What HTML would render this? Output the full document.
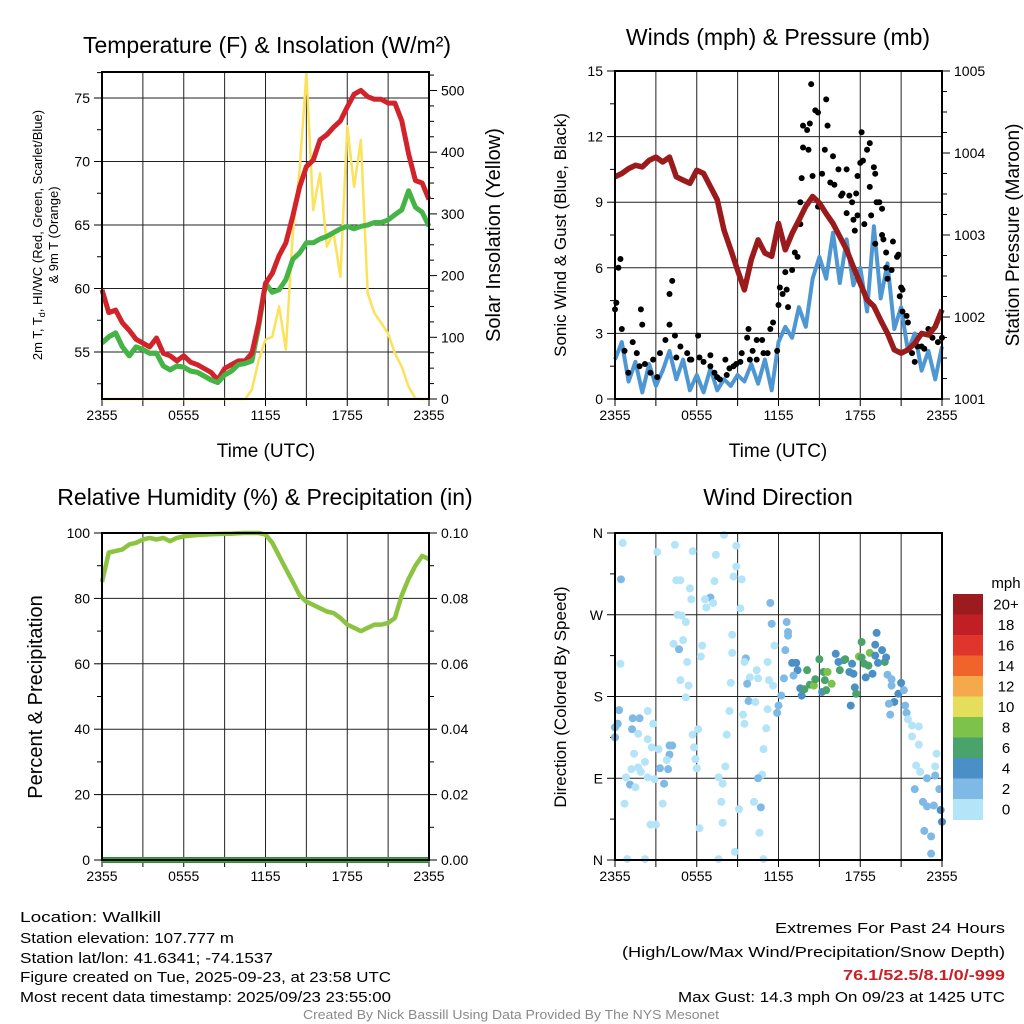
<!DOCTYPE html>
<html><head><meta charset="utf-8"><style>
html,body{margin:0;padding:0;background:#fff;}
svg{display:block;font-family:"Liberation Sans",sans-serif;}
</style></head><body>
<svg id="c" width="1024" height="1024" viewBox="0 0 1024 1024"></svg>
<script>
// ---------- data ----------
const timeTicks = ["2355","0555","1155","1755","2355"];
const tickHours = [0,6,12,18,24];
const halfHours = [0,0.5,1,1.5,2,2.5,3,3.5,4,4.5,5,5.5,6,6.5,7,7.5,8,8.5,9,9.5,10,10.5,11,11.5,12,12.5,13,13.5,14,14.5,15,15.5,16,16.5,17,17.5,18,18.5,19,19.5,20,20.5,21,21.5,22,22.5,23,23.5,24];
const tempF = [59.9,58.1,58.3,57.3,56.7,56.0,55.7,55.4,56.1,54.9,54.7,54.3,54.7,54.2,54.0,53.7,53.4,52.8,53.7,54.0,54.3,54.3,54.9,57.3,60.4,61.2,62.6,63.6,65.7,68.0,69.6,70.1,71.7,72.1,72.7,73.2,74.3,75.3,75.6,75.1,74.9,74.9,74.6,74.6,73.2,70.6,68.5,68.3,67.0];
const dewF = [55.7,56.2,56.5,55.4,54.7,55.4,55.2,54.9,54.9,53.9,53.6,53.9,53.8,53.5,53.4,53.1,52.8,52.6,53.2,53.5,54.0,54.1,54.3,57.0,60.4,59.7,59.9,60.7,62.3,62.8,63.6,63.6,63.9,64.1,64.4,64.7,64.9,64.7,64.9,65.0,65.2,65.2,65.4,65.8,66.2,67.7,66.4,66.0,64.9];
const solarW = [0,0,0,0,0,0,0,0,0,0,0,0,0,0,0,0,0,0,0,0,0,0,15,63,96,101,150,80,269,371,528,306,366,247,269,198,442,344,420,171,139,123,106,74,52,20,1,0,0];
const windMph = [1.8,2.6,0.8,1.7,0.3,1.6,0.6,1.3,2.2,0.9,1.8,0.4,1.1,0.3,1.4,0.4,0.9,0.6,1.1,0.8,1.6,0.7,1.8,0.4,2.6,3.3,2.8,4.2,3.3,5.5,6.5,5.5,7.6,5.3,7.3,5.2,6.0,4.0,7.9,4.6,6.2,3.2,4.2,2.2,3.0,1.3,2.2,0.9,2.4];
const pressureMb = [1003.71,1003.75,1003.81,1003.85,1003.83,1003.91,1003.95,1003.89,1003.95,1003.71,1003.67,1003.63,1003.79,1003.75,1003.59,1003.43,1003.06,1002.82,1002.57,1002.33,1002.70,1002.94,1002.78,1002.74,1003.14,1002.82,1003.02,1003.18,1003.35,1003.47,1003.39,1003.26,1003.14,1002.98,1002.82,1002.61,1002.41,1002.21,1002.13,1001.96,1001.80,1001.60,1001.56,1001.60,1001.68,1001.80,1001.78,1001.88,1002.09];
const gustHours = [0,0.1,0.25,0.4,0.5,0.7,1.3,1.6,1.9,2.0,2.2,2.6,3.3,3.7,4.0,4.2,4.0,4.4,4.8,5.3,5.6,6.1,6.5,7.0,7.3,7.7,8.1,8.4,8.9,9.3,9.7,9.8,10.1,10.4,10.8,11.4,11.6,12.0,12.1,12.3,12.6,12.7,12.5,13.0,13.2,13.4,13.6,13.6,13.7,13.8,13.8,14.1,14.2,14.3,14.4,14.5,14.7,14.9,14.9,15.2,15.4,15.5,15.6,15.8,16.0,16.1,16.4,16.6,16.7,17.0,17.0,17.2,17.4,17.5,17.6,17.7,17.8,17.8,18.0,18.1,18.2,18.3,18.5,18.7,18.7,18.8,19.0,19.1,19.1,19.2,19.4,19.6,19.6,19.7,19.9,19.9,20.0,20.3,20.4,20.7,20.8,20.9,21.0,21.1,21.1,21.4,21.5,21.8,22.0,22.2,22.5,22.7,23.0,23.3,23.7,24.0,0.98,1.8,2.8,3.1,4.5,5.5,6.2,7.0,7.5,8.2,8.7,9.2,9.9,10.4,10.9,11.2,11.9];
const gustMph = [4.1,4.4,6.0,6.4,3.2,2.2,2.6,2.1,4.1,3.4,1.6,1.2,2.1,2.7,4.8,5.4,3.4,2.9,2.4,2.1,1.8,2.9,1.7,2.0,1.2,0.9,1.8,1.4,1.6,2.1,2.8,3.2,2.2,2.7,2.7,3.2,3.5,4.3,5.1,4.8,5.0,4.2,5.8,5.9,6.7,6.5,8.0,9.0,10.1,11.5,12.5,12.3,11.4,12.6,14.4,10.2,13.2,13.1,8.8,10.3,11.4,13.7,12.5,9.9,11.1,9.8,10.5,9.3,9.4,10.5,8.5,9.3,9.0,8.2,7.7,9.4,10.2,8.4,10.8,12.2,10.9,8.0,11.4,11.7,9.7,8.4,10.6,10.3,7.1,9.0,9.0,8.7,7.5,7.3,6.7,6.0,5.5,5.9,7.2,6.5,6.6,4.7,5.1,5.0,4.0,3.8,3.5,2.1,1.7,2.4,2.4,2.3,3.2,2.8,2.6,2.8,1.2,1.5,1.8,1.0,1.9,1.8,1.9,1.5,1.0,1.1,1.5,1.7,1.8,1.8,2.1,2.1,2.2];
const rhPct = [85,94,94.5,95,96.5,97,98,98.5,98,98.5,97.5,98.5,99,99.2,99.4,99.5,99.6,99.7,99.8,99.8,99.9,100,100,100,99.5,97,93,89,85,81,79,78,77,76,75.5,74,72,71,70,71,72,72,72.5,74,81,86,90,93,92];
const precipIn = [0,0,0,0,0,0,0,0,0,0,0,0,0,0,0,0,0,0,0,0,0,0,0,0,0,0,0,0,0,0,0,0,0,0,0,0,0,0,0,0,0,0,0,0,0,0,0,0,0];
const dirHours = [0.57,0.44,0.4,0.3,0.2,0,0,1.3,1.8,1.25,1.7,2.4,2.8,2.4,2.7,1.4,2.2,1.2,1.7,1.9,0.8,1.1,1.5,2.4,2.9,0.7,2.6,3.0,0.9,2.2,3.1,4.4,5.7,4.5,4.8,5.5,5.6,7.0,6.6,7.2,6.7,4.6,4.9,5.2,4.3,5.0,4.7,5.3,6.4,6.3,4.8,5.4,5.2,4.0,4.2,3.2,4.0,3.8,3.3,3.9,3.6,3.5,6.1,5.7,5.8,5.9,6.0,7.6,7.9,7.8,7.9,6.2,7.6,8.0,7.4,8.9,8.9,8.7,9.3,7.3,9.2,8.6,8.6,8.5,8.4,8.2,9.5,9.4,9.1,8.8,8.1,9.6,9.5,10.4,9.9,10.5,9.7,9.8,10.3,11.2,11.1,10.9,10.8,10.5,10.2,10.7,10.6,10.9,11.4,11.5,11.2,11.3,11.7,11.6,12.0,11.9,12.2,12.4,12.6,12.7,12.7,12.5,13.0,13.3,13.4,13.1,13.6,13.7,13.9,14.1,14.3,14.6,14.7,15.0,15.3,15.4,15.6,15.9,15.2,15.5,16.2,16.4,16.5,16.8,16.9,17.2,17.4,17.5,17.3,17.6,17.7,17.9,18.1,18.1,18.3,18.4,18.6,18.7,18.9,19.1,19.1,19.2,19.6,19.8,19.9,19.3,20.0,20.3,20.3,20.5,20.8,21.0,21.2,20.1,20.2,21.3,21.4,21.5,21.8,22.3,21.8,22.3,22.1,22.4,23.6,23.5,22.9,23.5,23.8,22.0,22.6,22.9,23.4,23.9,24.0,22.7,23.2,23.2];
const dirDeg = [349,309,216,165,150,146,135,156,156,144,139,164,150,133,124,117,108,100,102,97,91,83,80,91,89,62,39,39,1,1,339,347,340,308,308,299,287,289,287,283,278,270,269,262,238,242,232,218,236,224,198,192,179,126,126,122,116,110,101,100,84,62,144,138,124,111,101,91,84,64,41,35,1,358,336,346,323,312,309,307,277,248,228,195,164,138,150,160,56,9,103,222,218,209,201,200,194,175,174,166,145,122,94,90,64,58,30,1,283,260,218,198,236,192,170,162,181,200,262,251,247,231,217,217,209,203,189,181,188,209,193,192,199,221,207,198,207,194,185,187,227,218,209,220,221,207,216,205,170,190,183,224,240,223,216,201,214,228,205,225,237,250,231,218,223,217,204,199,192,174,183,195,187,172,160,170,162,155,148,147,136,127,104,97,117,103,90,93,78,78,64,59,60,55,42,32,26,7];
const dirSpeed = [1,3,1,3,3,3,3,3,3,3,1,1,1,1,1,1,1,1,1,1,1,3,1,1,1,1,1,1,1,1,1,1,1,1,1,1,1,3,1,1,1,1,1,1,1,1,3,1,1,1,1,1,1,3,3,1,3,1,3,3,3,1,1,1,1,1,1,1,1,1,1,1,1,1,1,1,1,1,1,1,1,1,1,1,1,1,1,1,1,1,1,3,1,1,1,1,3,3,1,1,1,1,1,3,1,3,1,1,3,3,1,1,1,1,3,3,3,3,3,3,3,3,4,4,4,3,4,4,6,6,6,8,6,6,6,6,8,8,4,6,4,4,6,4,6,4,4,4,4,4,6,8,6,6,6,4,6,8,4,4,4,4,4,6,4,4,3,3,3,4,4,4,3,3,3,3,3,1,1,1,1,1,1,1,1,1,3,3,3,3,3,3,3,4,4,3,3,3];
const speedLabels = ["0","2","4","6","8","10","12","14","16","18","20+"];
const speedColors = ["#b3e4f8","#7fb9e5","#4b8fc7","#4aa36b","#7cc24b","#e5de5a","#f6a94a","#f0632b","#e0352c","#c01f26","#9c1b1f"];

// ---------- helpers ----------
const svg = document.getElementById('c');
const NS = 'http://www.w3.org/2000/svg';
function mk(tag, attrs, parent){
  const e = document.createElementNS(NS, tag);
  for (const k in attrs) e.setAttribute(k, attrs[k]);
  (parent||svg).appendChild(e);
  return e;
}
function txt(s, x, y, size, anchor, extra, parent){
  const t = mk('text', Object.assign({x:x, y:y, 'font-size':size, 'text-anchor':anchor||'middle', fill:'#000'}, extra||{}), parent);
  t.textContent = s;
  return t;
}
function lin(a0,a1,p0,p1){ return v => p0 + (v-a0)/(a1-a0)*(p1-p0); }

const P1 = {x0:102,x1:429,y0:72,y1:399};
const P2 = {x0:615,x1:942,y0:71,y1:399};
const P3 = {x0:102,x1:429,y0:533,y1:860};
const P4 = {x0:615,x1:942,y0:533,y1:860};

function frame(P, name){
  const g = mk('g', {});
  
  
  const xs = lin(0,24,P.x0,P.x1);
  for (let h=3; h<24; h+=3){
    const l = mk('line', {x1:xs(h), x2:xs(h), y1:P.y0, y2:P.y1, stroke:'#222', 'stroke-width':1}, g);
    
    
  }
  for (let h=0; h<=24; h+=3){
    mk('line', {x1:xs(h), x2:xs(h), y1:P.y1, y2:P.y1+7, stroke:'#000', 'stroke-width':1}, g);
  }
  tickHours.forEach((h,i)=>{
    const t = txt(timeTicks[i], xs(h), P.y1+21, 14, 'middle', {}, g);
    
    
  });
  return {g, xs};
}
function border(P){
  const r = mk('rect', {x:P.x0, y:P.y0, width:P.x1-P.x0, height:P.y1-P.y0, fill:'none', stroke:'#000', 'stroke-width':2});
  
  
}
function hgrid(P, ys, vals, g){
  vals.forEach(v=>{
    const l = mk('line', {x1:P.x0, x2:P.x1, y1:ys(v), y2:ys(v), stroke:'#222', 'stroke-width':1}, g);
    
    
  });
}
function leftAxis(P, ys, vals, labels, minor, g){
  vals.forEach((v,i)=>{
    mk('line', {x1:P.x0-8, x2:P.x0, y1:ys(v), y2:ys(v), stroke:'#000'}, g);
    const t = txt(labels[i], P.x0-12, ys(v)+5, 14, 'end', {}, g);
    
    
  });
  minor.forEach(v=> mk('line', {x1:P.x0-5, x2:P.x0, y1:ys(v), y2:ys(v), stroke:'#000'}, g));
}
function rightAxis(P, ys, vals, labels, minor, g){
  vals.forEach((v,i)=>{
    mk('line', {x1:P.x1, x2:P.x1+8, y1:ys(v), y2:ys(v), stroke:'#000'}, g);
    const t = txt(labels[i], P.x1+12, ys(v)+5, 14, 'start', {}, g);
    
    
  });
  minor.forEach(v=> mk('line', {x1:P.x1, x2:P.x1+5, y1:ys(v), y2:ys(v), stroke:'#000'}, g));
}
function pathOf(xsArr, ysArr, xs, ys){
  return xsArr.map((h,i)=> (i?'L':'M') + xs(h).toFixed(1) + ',' + ys(ysArr[i]).toFixed(1)).join(' ');
}
function rotLabel(s, x, y, size, name){
  const t = txt(s, x, y, size, 'middle', {transform:'rotate(-90 '+x+' '+y+')'});
  
  
  return t;
}
function title(s, x, y, name){
  const t = txt(s, x, y, 23, 'middle');
  
  
  return t;
}

// ---------- Panel 1: temperature & insolation ----------
{
  const {g, xs} = frame(P1, 'temperature-panel');
  const ys = lin(55,75,352,98);
  const ysR = lin(0,500,399,90.5);
  hgrid(P1, ys, [55,60,65,70,75], g);
  leftAxis(P1, ys, [55,60,65,70,75], ['55','60','65','70','75'], [52.5,57.5,62.5,67.5,72.5,77], g);
  const rm = []; for (let v=50; v<=525; v+=50) if (v%100) rm.push(v); for (let v=25; v<=525; v+=50) rm.push(v);
  rightAxis(P1, ysR, [0,100,200,300,400,500], ['0','100','200','300','400','500'], rm, g);
  const s = mk('path', {d:pathOf(halfHours, solarW, xs, ysR), fill:'none', stroke:'#fbe25a', 'stroke-width':2.5, 'stroke-linejoin':'round'});
  
  
  const d = mk('path', {d:pathOf(halfHours, dewF, xs, ys), fill:'none', stroke:'#43b445', 'stroke-width':5, 'stroke-linejoin':'round'});
  
  
  const t = mk('path', {d:pathOf(halfHours, tempF, xs, ys), fill:'none', stroke:'#d2222a', 'stroke-width':5, 'stroke-linejoin':'round'});
  
  
  const d2 = mk('path', {d:pathOf(halfHours.slice(0,23), dewF.slice(0,23), xs, ys), fill:'none', stroke:'#43b445', 'stroke-width':5, 'stroke-linejoin':'round'});
  
  
  border(P1);
  title('Temperature (F) & Insolation (W/m\u00B2)', 267, 53, 'temperature-title');
  const yl = txt('', 42, 235, 13, 'middle', {transform:'rotate(-90 42 235)'});
  
  
  const a = mk('tspan', {}, yl); a.textContent = '2m T, T';
  const b = mk('tspan', {'font-size':9, dy:3}, yl); b.textContent = 'd';
  const c = mk('tspan', {dy:-3}, yl); c.textContent = ', HI/WC (Red, Green, Scarlet/Blue)';
  rotLabel('& 9m T (Orange)', 58, 235, 13, 'temperature-y-axis-subtitle');
  rotLabel('Solar Insolation (Yellow)', 500, 235, 20, 'insolation-y-axis-title');
  const xl = txt('Time (UTC)', 266, 457, 19);  
}

// ---------- Panel 2: winds & pressure ----------
{
  const {g, xs} = frame(P2, 'wind-pressure-panel');
  const ys = lin(0,15,399,71);
  const ysR = lin(1001,1005,399,71);
  hgrid(P2, ys, [3,6,9,12], g);
  leftAxis(P2, ys, [0,3,6,9,12,15], ['0','3','6','9','12','15'], [1.5,4.5,7.5,10.5,13.5], g);
  rightAxis(P2, ysR, [1001,1002,1003,1004,1005], ['1001','1002','1003','1004','1005'], [1001.25,1001.5,1001.75,1002.25,1002.5,1002.75,1003.25,1003.5,1003.75,1004.25,1004.5,1004.75], g);
  const w = mk('path', {d:pathOf(halfHours, windMph, xs, ys), fill:'none', stroke:'#4f97d3', 'stroke-width':4, 'stroke-linejoin':'round'});
  
  
  gustHours.forEach((h,i)=>{
    const c = mk('circle', {cx:xs(h), cy:ys(gustMph[i]), r:3, fill:'#000'});
    
    
  });
  const p = mk('path', {d:pathOf(halfHours, pressureMb, xs, ysR), fill:'none', stroke:'#9b1a1c', 'stroke-width':5.5, 'stroke-linejoin':'round'});
  
  
  border(P2);
  title('Winds (mph) & Pressure (mb)', 778, 45, 'wind-pressure-title');
  rotLabel('Sonic Wind & Gust (Blue, Black)', 566, 235, 17, 'wind-y-axis-title');
  rotLabel('Station Pressure (Maroon)', 1019, 235, 19, 'pressure-y-axis-title');
  const xl = txt('Time (UTC)', 778, 457, 19);  
}

// ---------- Panel 3: RH & precip ----------
{
  const {g, xs} = frame(P3, 'humidity-panel');
  const ys = lin(0,100,860,533);
  const ysR = lin(0,0.1,860,533);
  hgrid(P3, ys, [20,40,60,80], g);
  leftAxis(P3, ys, [0,20,40,60,80,100], ['0','20','40','60','80','100'], [10,30,50,70,90], g);
  rightAxis(P3, ysR, [0,0.02,0.04,0.06,0.08,0.1], ['0.00','0.02','0.04','0.06','0.08','0.10'], [0.01,0.03,0.05,0.07,0.09], g);
  const r = mk('path', {d:pathOf(halfHours, rhPct, xs, ys), fill:'none', stroke:'#8cc442', 'stroke-width':4.5, 'stroke-linejoin':'round'});
  
  
  const pr = mk('path', {d:pathOf(halfHours, precipIn, xs, ysR), fill:'none', stroke:'#2f8a3a', 'stroke-width':6});
  
  
  const pr2 = mk('path', {d:pathOf(halfHours, precipIn, xs, ysR), fill:'none', stroke:'#4db848', 'stroke-width':3});
  
  
  border(P3);
  title('Relative Humidity (%) & Precipitation (in)', 265, 505, 'humidity-title');
  rotLabel('Percent & Precipitation', 42, 697, 20, 'humidity-y-axis-title');
}

// ---------- Panel 4: wind direction ----------
{
  const {g, xs} = frame(P4, 'wind-direction-panel');
  const ys = lin(0,360,860,533);
  hgrid(P4, ys, [90,180,270], g);
  leftAxis(P4, ys, [0,90,180,270,360], ['N','E','S','W','N'], [45,135,225,315], g);
  function colorFor(s){ let i = Math.min(10, Math.floor(s/2)); return speedColors[i]; }
  dirHours.forEach((h,i)=>{
    const c = mk('circle', {cx:xs(h), cy:ys(dirDeg[i]), r:4, fill:colorFor(dirSpeed[i])});
    
    
  });
  border(P4);
  title('Wind Direction', 778, 505, 'wind-direction-title');
  rotLabel('Direction (Colored By Speed)', 566, 697, 17, 'direction-y-axis-title');
  const cb = mk('g', {});
  
  
  const bh = 20.5, top = 594;
  speedLabels.forEach((lab,i)=>{
    const idx = speedLabels.length-1-i;
    const y = top + i*bh;
    const r = mk('rect', {x:953, y:y, width:30, height:bh+0.5, fill:speedColors[idx]}, cb);
    
    
    const t = txt(speedLabels[idx], 1006, y+bh/2+5, 15, 'middle', {}, cb);
    
    
  });
  const u = txt('mph', 1006, 588, 15, 'middle', {}, cb);
  
  
}

// ---------- footer text ----------
const leftLines = ['Location: Wallkill','Station elevation: 107.777 m','Station lat/lon: 41.6341; -74.1537','Figure created on Tue, 2025-09-23, at 23:58 UTC','Most recent data timestamp: 2025/09/23 23:55:00'];
const leftW = [141,214,253,371,371];
const leftY = [922,943,963,982,1002];
leftLines.forEach((s,i)=>{
  const t = txt(s, 20, leftY[i], 15, 'start', {textLength:leftW[i], lengthAdjust:'spacingAndGlyphs'});
  
  
});
const r1 = txt('Extremes For Past 24 Hours', 1005, 933, 15, 'end', {textLength:230, lengthAdjust:'spacingAndGlyphs'});


const r2 = txt('(High/Low/Max Wind/Precipitation/Snow Depth)', 1005, 957, 15, 'end', {textLength:383, lengthAdjust:'spacingAndGlyphs'});


const r3 = txt('76.1/52.5/8.1/0/-999', 1005, 980, 15, 'end', {fill:'#cc1f27', 'font-weight':'bold', textLength:162, lengthAdjust:'spacingAndGlyphs'});


const r4 = txt('Max Gust: 14.3 mph On 09/23 at 1425 UTC', 1005, 1002, 15, 'end', {textLength:327, lengthAdjust:'spacingAndGlyphs'});


const cr = txt('Created By Nick Bassill Using Data Provided By The NYS Mesonet', 511, 1019, 13, 'middle', {fill:'#8a8a8a', textLength:416, lengthAdjust:'spacingAndGlyphs'});


</script>
</body></html>
